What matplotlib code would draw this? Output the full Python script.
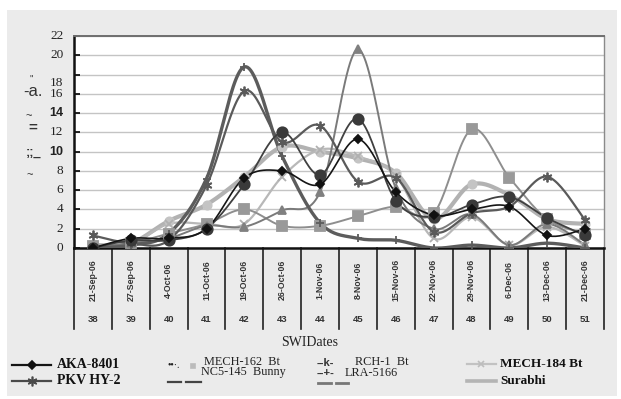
import numpy as np
import matplotlib
matplotlib.use("Agg")
import matplotlib.pyplot as plt
from matplotlib.patches import Rectangle
from matplotlib.lines import Line2D

# ---- data -------------------------------------------------------------
weeks = [38, 39, 40, 41, 42, 43, 44, 45, 46, 47, 48, 49, 50, 51]
dates = ["21-Sep-06", "27-Sep-06", "4-Oct-06", "11-Oct-06", "19-Oct-06",
         "26-Oct-06", "1-Nov-06", "8-Nov-06", "15-Nov-06", "22-Nov-06",
         "29-Nov-06", "6-Dec-06", "13-Dec-06", "21-Dec-06"]

aka_8401 = [0.0, 1.0, 1.0, 2.0, 7.3, 8.0, 6.6, 11.3, 5.8, 3.4, 4.0, 4.3, 1.3, 2.0]
pkv_hy2 = [1.3, 0.5, 0.8, 6.5, 16.3, 11.0, 12.7, 6.9, 7.3, 1.7, 3.6, 4.3, 7.4, 2.9]
mech_162 = [0.0, 0.8, 0.8, 2.0, 6.6, 12.0, 7.6, 13.4, 4.9, 3.2, 4.5, 5.3, 3.1, 1.3]
nc5_145 = [0.2, 0.5, 1.5, 2.5, 4.0, 2.3, 2.3, 3.3, 4.3, 3.6, 12.3, 7.3, 3.0, 1.5]
rch_1 = [0.0, 0.5, 1.0, 2.3, 2.2, 3.9, 5.8, 20.6, 6.2, 2.0, 3.5, 0.3, 2.5, 0.3]
lra_5166 = [0.0, 0.3, 1.5, 7.2, 18.8, 9.5, 2.6, 1.0, 0.8, 0.0, 0.3, 0.0, 0.5, 0.0]
mech_184 = [0.0, 0.4, 2.5, 2.5, 2.5, 7.4, 10.2, 9.5, 7.5, 1.0, 3.2, 0.3, 2.2, 0.2]
surabhi = [0.3, 0.5, 2.8, 4.5, 7.4, 10.5, 10.0, 9.3, 7.8, 3.0, 6.6, 5.5, 3.0, 2.5]

y_ticks = [0, 2, 4, 6, 8, 10, 12, 14, 16, 18, 20, 22]

W, H = 621, 399


def smooth(xs, ys, n=24):
    """Catmull-Rom curve through the points (Excel-style smoothed line)."""
    p = np.column_stack([xs, ys]).astype(float)
    p = np.vstack([p[0], p, p[-1]])
    out = []
    t = np.linspace(0, 1, n, endpoint=False)
    for i in range(1, len(p) - 2):
        p0, p1, p2, p3 = p[i - 1], p[i], p[i + 1], p[i + 2]
        tt = t[:, None]
        seg = 0.5 * ((2 * p1) + (-p0 + p2) * tt +
                     (2 * p0 - 5 * p1 + 4 * p2 - p3) * tt ** 2 +
                     (-p0 + 3 * p1 - 3 * p2 + p3) * tt ** 3)
        out.append(seg)
    out.append(p[-2][None, :])
    s = np.vstack(out)
    return s[:, 0], s[:, 1]


fig = plt.figure(figsize=(W / 100, H / 100), dpi=100)
fig.patch.set_facecolor("white")


def fx(x):
    return x / W


def fy(y):
    return 1 - y / H


# grey chart background
fig.patches.append(Rectangle((fx(7), fy(396)), fx(610), (386) / H,
                             transform=fig.transFigure, facecolor="#ebebeb",
                             edgecolor="none", zorder=-10))

ax = fig.add_axes([fx(74), fy(248), fx(530), 212 / H])
ax.set_facecolor("white")
ax.set_xlim(-0.5, len(weeks) - 0.5)
ax.set_ylim(0, 22)
ax.set_yticks(y_ticks)
ax.set_yticklabels([])
ax.set_xticks([])
ax.tick_params(axis="y", length=4, width=1.2, direction="in", color="black")
ax.yaxis.grid(True, color="#c4c4c4", lw=1.0)
ax.set_axisbelow(True)
for side in ("left", "bottom"):
    ax.spines[side].set_linewidth(1.8)
    ax.spines[side].set_color("#111111")
ax.spines["top"].set_color("#6e6e6e")
ax.spines["top"].set_linewidth(1.4)
ax.spines["right"].set_color("#8a8a8a")
ax.spines["right"].set_linewidth(1.0)

x = np.arange(len(weeks))

series = [
    # values, line colour, width, marker, marker size, marker face
    (surabhi, "#b2b2b2", 3.0, "o", 6, "#c4c4c4"),
    (mech_184, "#b8b8b8", 1.6, "x", 6, "#b0b0b0"),
    (nc5_145, "#8e8e8e", 1.4, "s", 7, "#999999"),
    (rch_1, "#7a7a7a", 1.4, "^", 6, "#808080"),
    (lra_5166, "#5c5c5c", 2.4, "+", 6, "#5c5c5c"),
    (pkv_hy2, "#5a5a5a", 1.6, (6, 2, 0), 7, "#5a5a5a"),
    (mech_162, "#404040", 1.3, "o", 7.5, "#3a3a3a"),
    (aka_8401, "#151515", 1.2, "D", 4.5, "#111111"),
]

for vals, col, lw, mk, ms, mfc in series:
    sx, sy = smooth(x, vals)
    ax.plot(sx, sy, color=col, lw=lw, solid_capstyle="round", zorder=3)
    ax.plot(x, vals, ls="none", marker=mk, ms=ms, color=mfc, mfc=mfc,
            mec=mfc, mew=1.3, zorder=4)

# y tick labels
serif = ["Liberation Serif", "DejaVu Serif"]
for v in y_ticks:
    if v == 18:
        continue
    bold = v in (10, 14)
    ax.text(-0.02, v, str(v), transform=ax.get_yaxis_transform(),
            ha="right", va="center",
            family=["Liberation Sans"] if bold else serif,
            fontweight="bold" if bold else "normal",
            fontsize=9 if bold else 9.5, color="#222222")
ax.text(-0.02, 17.1, "18", transform=ax.get_yaxis_transform(),
        ha="right", va="center", family=serif, fontsize=9.5, color="#222222")

# stray axis-title fragments
for (tx, ty, s, sz, wt) in [(31, 80, '"', 7, "normal"), (33, 91, "-a.", 12, "normal"),
                             (29, 116, "~", 8, "normal"), (33, 128, "=", 11, "bold"),
                             (34, 153, ";;_", 9, "bold"),
                             (30, 175, "~", 8, "normal")]:
    fig.text(fx(tx), fy(ty), s, ha="center", va="center", fontsize=sz,
             fontweight=wt, family=["Liberation Sans"], color="#333333")

# category axis: separators, dates and week numbers
sep_tr = ax.get_xaxis_transform()
for i in range(len(weeks) + 1):
    ax.add_line(Line2D([i - 0.5, i - 0.5], [0, -81 / 212], transform=sep_tr,
                       color="#222222", lw=1.2, clip_on=False))
for i, (d, w) in enumerate(zip(dates, weeks)):
    ax.text(i, -32 / 212, d, transform=sep_tr, rotation=90, ha="center",
            va="center", fontsize=6.3, family=["Liberation Sans Narrow", "Liberation Sans"],
            fontweight="bold", color="#333333")
    ax.text(i, -71 / 212, str(w), transform=sep_tr, ha="center", va="center",
            fontsize=6.8, family=["Liberation Sans Narrow", "Liberation Sans"],
            fontweight="bold", color="#333333")

fig.text(fx(310), fy(342), "SWIDates", ha="center", va="center",
         fontsize=10, family=serif, color="#222222")

# legend drawn by hand
def leg_line(x0, x1, y, col, lw, ls="-"):
    fig.add_artist(Line2D([fx(x0), fx(x1)], [fy(y), fy(y)], transform=fig.transFigure,
                          color=col, lw=lw, ls=ls))


def leg_mark(xm, y, mk, col, ms):
    fig.add_artist(Line2D([fx(xm)], [fy(y)], transform=fig.transFigure, ls="none",
                          marker=mk, ms=ms, color=col, mec=col, mfc=col, mew=1.2))


leg_line(12, 51, 365, "#151515", 1.6)
leg_mark(32, 365, "D", "#111111", 4.5)
fig.text(fx(57), fy(365), "AKA-8401", ha="left", va="center", fontsize=10,
         fontweight="bold", family=serif, color="#111111")
leg_line(12, 51, 381, "#4a4a4a", 1.6)
leg_mark(32, 381, (6, 2, 0), "#4a4a4a", 7)
fig.text(fx(57), fy(381), "PKV HY-2", ha="left", va="center", fontsize=10,
         fontweight="bold", family=serif, color="#111111")

fig.text(fx(168), fy(365), "\u2022\u2022\u00b7.", ha="left", va="center", fontsize=7,
         family=serif, color="#222222")
leg_mark(193, 366, "s", "#bbbbbb", 3)
fig.text(fx(204), fy(362), "MECH-162  Bt", ha="left", va="center", fontsize=8.8,
         family=serif, color="#222222")
fig.text(fx(201), fy(372.5), "NC5-145  Bunny", ha="left", va="center", fontsize=8.8,
         family=serif, color="#222222")
leg_line(168, 181, 382, "#444444", 1.6)
leg_line(186, 201, 382, "#444444", 1.6)

fig.text(fx(317), fy(363), "--k-", ha="left", va="center", fontsize=8,
         family=["Liberation Sans"], fontweight="bold", color="#333333")
fig.text(fx(355), fy(362), "RCH-1  Bt", ha="left", va="center", fontsize=8.8,
         family=serif, color="#222222")
fig.text(fx(317), fy(373), "--+-", ha="left", va="center", fontsize=8,
         family=["Liberation Sans"], fontweight="bold", color="#333333")
fig.text(fx(345), fy(372.5), "LRA-5166", ha="left", va="center", fontsize=8.8,
         family=serif, color="#222222")
leg_line(318, 331, 383, "#777777", 2.0)
leg_line(336, 348, 383, "#777777", 2.0)

leg_line(467, 496, 364, "#c2c2c2", 1.6)
leg_mark(481, 364, "x", "#bdbdbd", 5)
fig.text(fx(500), fy(364), "MECH-184 Bt", ha="left", va="center", fontsize=9.5,
         fontweight="bold", family=serif, color="#111111")
leg_line(467, 496, 381, "#b4b4b4", 2.6)
fig.text(fx(500), fy(381), "Surabhi", ha="left", va="center", fontsize=9.5,
         fontweight="bold", family=serif, color="#111111")

fig.savefig("out.png", dpi=100, facecolor=fig.get_facecolor())
